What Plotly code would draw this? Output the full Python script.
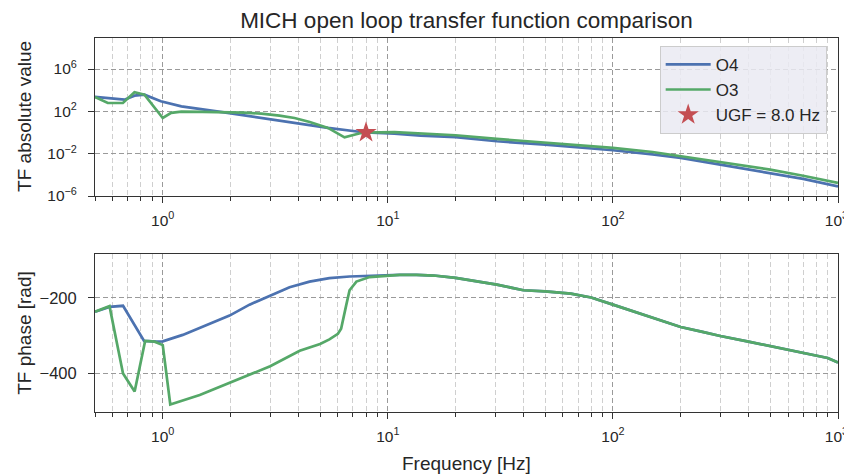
import plotly.graph_objects as go
from plotly.subplots import make_subplots

# ---------------- data ----------------
freq_o4_mag = [0.5, 0.58, 0.676, 0.749, 0.829, 0.98, 1.21, 1.94, 3.24, 5.42, 7.6, 8.0,
               10.7, 14, 20, 30.5, 50, 70, 100, 150, 200, 300, 500, 700, 1000]
mag_o4 = [2290, 1580, 1260, 3020, 3800, 890, 295, 71, 14, 2.7, 1.12, 1.0,
          0.78, 0.5, 0.36, 0.15, 0.071, 0.042, 0.021, 0.0085, 0.0039, 0.00091, 0.000148, 4.1e-5, 8.1e-6]

freq_o3_mag = [0.5, 0.57, 0.665, 0.749, 0.829, 1.0, 1.09, 1.21, 1.5, 1.94, 2.3, 2.74, 3.3, 3.85, 4.5, 5.42, 6.42, 7.6, 8.0,
               10.7, 14, 20, 30.5, 50, 70, 100, 150, 200, 300, 500, 700, 1000]
mag_o3 = [2290, 617, 617, 6310, 3800, 23.4, 71, 93, 91, 87, 76, 60, 40, 23.4, 10, 2.7, 0.35, 0.89, 1.0,
          1.1, 0.78, 0.55, 0.25, 0.117, 0.07, 0.035, 0.0145, 0.0056, 0.0015, 0.00031, 8.3e-5, 1.7e-5]

freq_o4_ph = [0.5, 0.58, 0.666, 0.826, 0.94, 1.0, 1.227, 1.56, 1.98, 2.43, 2.98, 3.66, 4.49, 5.5, 6.76, 8.3,
              10, 11.3, 13.4, 16, 20, 25, 30.5, 40, 50, 65, 80, 100, 125, 150, 200, 250, 300, 400, 500, 700, 900, 1000]
ph_o4 = [-237, -224, -221, -314, -316, -315, -298, -273, -247, -218, -194, -172, -157, -148, -143.5, -141,
         -139, -139, -139, -141, -147, -156, -165, -180, -183, -189, -199, -218, -237, -253, -277, -290, -301, -316, -328, -347, -359, -371]

freq_o3_ph = [0.5, 0.58, 0.666, 0.75, 0.835, 0.92, 1.0, 1.08, 1.46, 2.05, 3.0, 4.06, 5.0, 5.5, 6.0, 6.2, 6.4, 6.53,
              6.76, 7.25, 8.3, 10, 11.3, 13.4, 16, 20, 25, 30.5, 40, 50, 65, 80, 100, 125, 150, 200, 250, 300, 400, 500, 700, 900, 1000]
ph_o3 = [-237, -222, -400, -448, -314, -316, -325, -482, -457, -422, -381, -340, -322, -310, -295, -282, -248, -220,
         -180, -157, -145, -141, -139, -139, -141, -147, -156, -165, -180, -183, -189, -199, -218, -237, -253, -277, -290, -301, -316, -328, -347, -359, -371]

ugf_freq = [8.0]
ugf_mag = [1.0]

x_major = [1, 10, 100, 1000]
x_major_text = ["10<sup>0</sup>", "10<sup>1</sup>", "10<sup>2</sup>", "10<sup>3</sup>\u2009"]
x_minor = [m * d for d in [0.1, 1, 10, 100] for m in range(2, 10) if 0.5 <= m * d <= 1000]
y_mag_ticks = [1e-6, 1e-2, 1e2, 1e6]
y_mag_text = ["10<sup>\u22126</sup>", "10<sup>\u22122</sup>", "10<sup>2</sup>", "10<sup>6</sup>"]
y_ph_ticks = [-400, -200]
y_ph_text = ["\u2212400", "\u2212200"]

# ---------------- styling ----------------
BLUE = "#4C72B0"
GREEN = "#55A868"
RED = "#C44E52"
TXT = "#262626"
FONT = "Liberation Sans"

fig = make_subplots(rows=2, cols=1)

fig.add_trace(go.Scatter(x=freq_o4_mag, y=mag_o4, mode="lines", name="O4",
                         line=dict(color=BLUE, width=2.7)), row=1, col=1)
fig.add_trace(go.Scatter(x=freq_o3_mag, y=mag_o3, mode="lines", name="O3",
                         line=dict(color=GREEN, width=2.7)), row=1, col=1)
fig.add_trace(go.Scatter(x=ugf_freq, y=ugf_mag, mode="markers", name="UGF = 8.0 Hz",
                         marker=dict(symbol="star", size=16, color=RED, line=dict(width=0))), row=1, col=1)
fig.add_trace(go.Scatter(x=freq_o4_ph, y=ph_o4, mode="lines", showlegend=False,
                         line=dict(color=BLUE, width=2.7)), row=2, col=1)
fig.add_trace(go.Scatter(x=freq_o3_ph, y=ph_o3, mode="lines", showlegend=False,
                         line=dict(color=GREEN, width=2.7)), row=2, col=1)

major_grid = dict(showgrid=True, gridcolor="#9a9a9a", gridwidth=1, griddash="5px,3px")
axline = dict(showline=True, linecolor="#333", linewidth=1, mirror=True, zeroline=False, automargin=False)
xcommon = dict(type="log", range=[-0.30103, 3], tickvals=x_major, ticktext=x_major_text,
               ticks="outside", ticklen=6, tickwidth=1, tickcolor="#333", ticklabelstandoff=4,
               ticklabeloverflow="allow",
               tickfont=dict(size=15.5, color=TXT, family=FONT),
               minor=dict(tickvals=x_minor, ticks="outside", ticklen=3.5, tickcolor="#333",
                          showgrid=True, gridcolor="#cfcfcf", gridwidth=1, griddash="5px,3px"),
               **major_grid, **axline)
ycommon = dict(ticks="outside", ticklen=6, tickcolor="#333", ticklabelstandoff=8, **major_grid, **axline)

# the page body adds an 8 px margin, so the figure is drawn 8 px smaller
fig.update_layout(
    width=844, height=467,
    margin=dict(l=87, r=14, t=30, b=63),
    paper_bgcolor="white", plot_bgcolor="white",
    font=dict(family=FONT, color=TXT, size=15),
    title=dict(text="MICH open loop transfer function comparison",
               x=0.5, xref="paper", xanchor="center", y=1 - 12 / 467, yanchor="middle",
               font=dict(size=22.5, color=TXT, family=FONT)),
    xaxis=dict(domain=[0, 1], anchor="y", **xcommon),
    xaxis2=dict(domain=[0, 1], anchor="y2", **xcommon),
    yaxis=dict(domain=[0.5775, 1], type="log", range=[-6, 8.93],
               tickvals=y_mag_ticks, ticktext=y_mag_text,
               tickfont=dict(size=15.5, color=TXT), **ycommon),
    yaxis2=dict(domain=[0, 0.4235], range=[-502, -83],
                tickvals=y_ph_ticks, ticktext=y_ph_text,
                tickfont=dict(size=16.5, color=TXT), **ycommon),
    legend=dict(x=0.760, y=0.979, xanchor="left", yanchor="top",
                bgcolor="rgba(234,234,242,0.85)", bordercolor="#cccccc", borderwidth=1,
                font=dict(size=17, color=TXT, family=FONT), itemwidth=45,
                tracegroupgap=0),
    annotations=[
        dict(text="TF absolute value", xref="paper", yref="paper", x=-0.0942, y=0.789,
             xanchor="center", yanchor="middle", textangle=-90, showarrow=False,
             font=dict(size=19, color=TXT)),
        dict(text="TF phase [rad]", xref="paper", yref="paper", x=-0.0942, y=0.2118,
             xanchor="center", yanchor="middle", textangle=-90, showarrow=False,
             font=dict(size=19, color=TXT)),
        dict(text="Frequency [Hz]", xref="paper", yref="paper", x=0.5, y=-0.137,
             xanchor="center", yanchor="middle", showarrow=False,
             font=dict(size=19, color=TXT)),
    ],
)

fig.write_html("out.html")
